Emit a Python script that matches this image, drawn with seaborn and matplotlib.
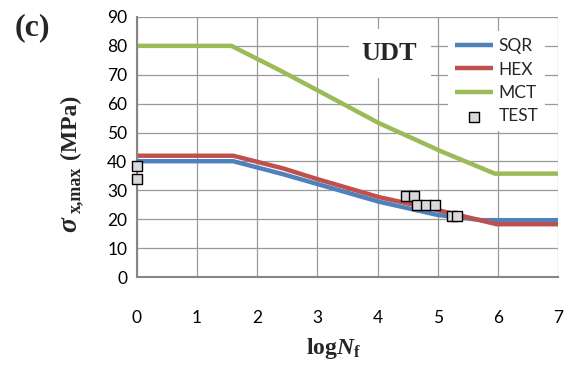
import matplotlib
matplotlib.use("Agg")
import matplotlib.pyplot as plt
import seaborn as sns
import pandas as pd

# --- data ---
sqr_x = [0, 1.6, 2.43, 3.0, 4.02, 5.0, 5.73, 7]
sqr_y = [40.1, 40.1, 35.6, 32.2, 26.1, 21.5, 19.7, 19.7]

hex_x = [0, 1.6, 2.43, 3.0, 4.02, 5.0, 5.98, 7]
hex_y = [42.0, 42.0, 37.6, 33.9, 27.7, 23.2, 18.3, 18.3]

mct_x = [0, 1.57, 2.37, 3.31, 4.02, 5.07, 5.95, 7]
mct_y = [80.0, 80.0, 71.6, 61.2, 53.3, 43.4, 35.8, 35.8]

test_x = [0, 0, 4.48, 4.6, 4.66, 4.8, 4.96, 5.24, 5.32]
test_y = [38.5, 33.8, 28.1, 28.1, 24.9, 24.9, 24.9, 21.1, 21.1]

series = {"SQR": (sqr_x, sqr_y), "HEX": (hex_x, hex_y), "MCT": (mct_x, mct_y)}
colors = {"SQR": "#4F81BD", "HEX": "#C0504D", "MCT": "#9BBB59"}

sns.set_style("white")
plt.rcParams["font.family"] = ["Lato", "DejaVu Sans"]
plt.rcParams["mathtext.fontset"] = "custom"
plt.rcParams["mathtext.rm"] = "Liberation Serif:bold"
plt.rcParams["mathtext.bf"] = "Liberation Serif:bold"
plt.rcParams["mathtext.it"] = "Liberation Serif:bold:italic"

W, H = 576, 369
fig = plt.figure(figsize=(W / 100, H / 100), dpi=100)
ax = fig.add_axes([0.2378, 0.249, 0.731, 0.705])

for name, (xs, ys) in series.items():
    df = pd.DataFrame({"x": xs, "y": ys})
    sns.lineplot(data=df, x="x", y="y", ax=ax, color=colors[name], linewidth=3.2,
                 label=name, sort=False, solid_capstyle="butt")

test_df = pd.DataFrame({"x": test_x, "y": test_y})
sns.scatterplot(data=test_df, x="x", y="y", ax=ax, marker="s", s=62,
                color="#D9D9D9", edgecolor="black", linewidth=1.0,
                label="TEST", zorder=5, clip_on=False)

ax.set_xlim(0, 7)
ax.set_ylim(0, 90)
ax.set_xticks(range(0, 8))
ax.set_yticks(range(0, 91, 10))
ax.grid(True, color="#999999", linewidth=0.9)
ax.set_axisbelow(True)
for s in ["top", "right"]:
    ax.spines[s].set_visible(False)
for s in ["left", "bottom"]:
    ax.spines[s].set_color("#868686")
    ax.spines[s].set_linewidth(1.5)
ax.tick_params(axis="both", direction="out", length=5, width=1, color="#868686",
               labelsize=12.5, labelcolor="black")
ax.tick_params(axis="x", pad=19)
ax.tick_params(axis="y", pad=2)

ax.set_xlabel(r"$\mathrm{log}N_\mathrm{f}$", fontsize=17)
ax.xaxis.set_label_coords(0.466, -0.225)
ax.set_ylabel("")

# y label built from pieces so the subscript can be sized like the original
serif = "Liberation Serif"
fig.text(76 / W, 1 - 232 / H, "σ", rotation=90, rotation_mode="anchor",
         ha="left", va="baseline", family=serif, fontweight="bold",
         fontstyle="italic", fontsize=20)
fig.text(80 / W, 1 - 213 / H, "x,max", rotation=90, rotation_mode="anchor",
         ha="left", va="baseline", family=serif, fontweight="bold", fontsize=13)
fig.text(76 / W, 1 - 159 / H, "(MPa)", rotation=90, rotation_mode="anchor",
         ha="left", va="baseline", family=serif, fontweight="bold", fontsize=17)

ax.legend(loc="upper right", bbox_to_anchor=(0.97, 0.945), borderaxespad=0,
          frameon=True, fancybox=False, framealpha=1, edgecolor="none",
          fontsize=12.5, handlelength=2.2, handletextpad=0.3,
          labelspacing=0.42, borderpad=0.4)

ax.text(0.60, 0.86, "UDT", transform=ax.transAxes, ha="center", va="center",
        family=serif, fontweight="bold", fontsize=19,
        bbox=dict(facecolor="white", edgecolor="none", boxstyle="square,pad=0.5"))

fig.text(32 / W, 1 - 28 / H, "(c)", ha="center", va="center",
         family=serif, fontweight="bold", fontsize=23)

fig.savefig("out.png", dpi=100)
